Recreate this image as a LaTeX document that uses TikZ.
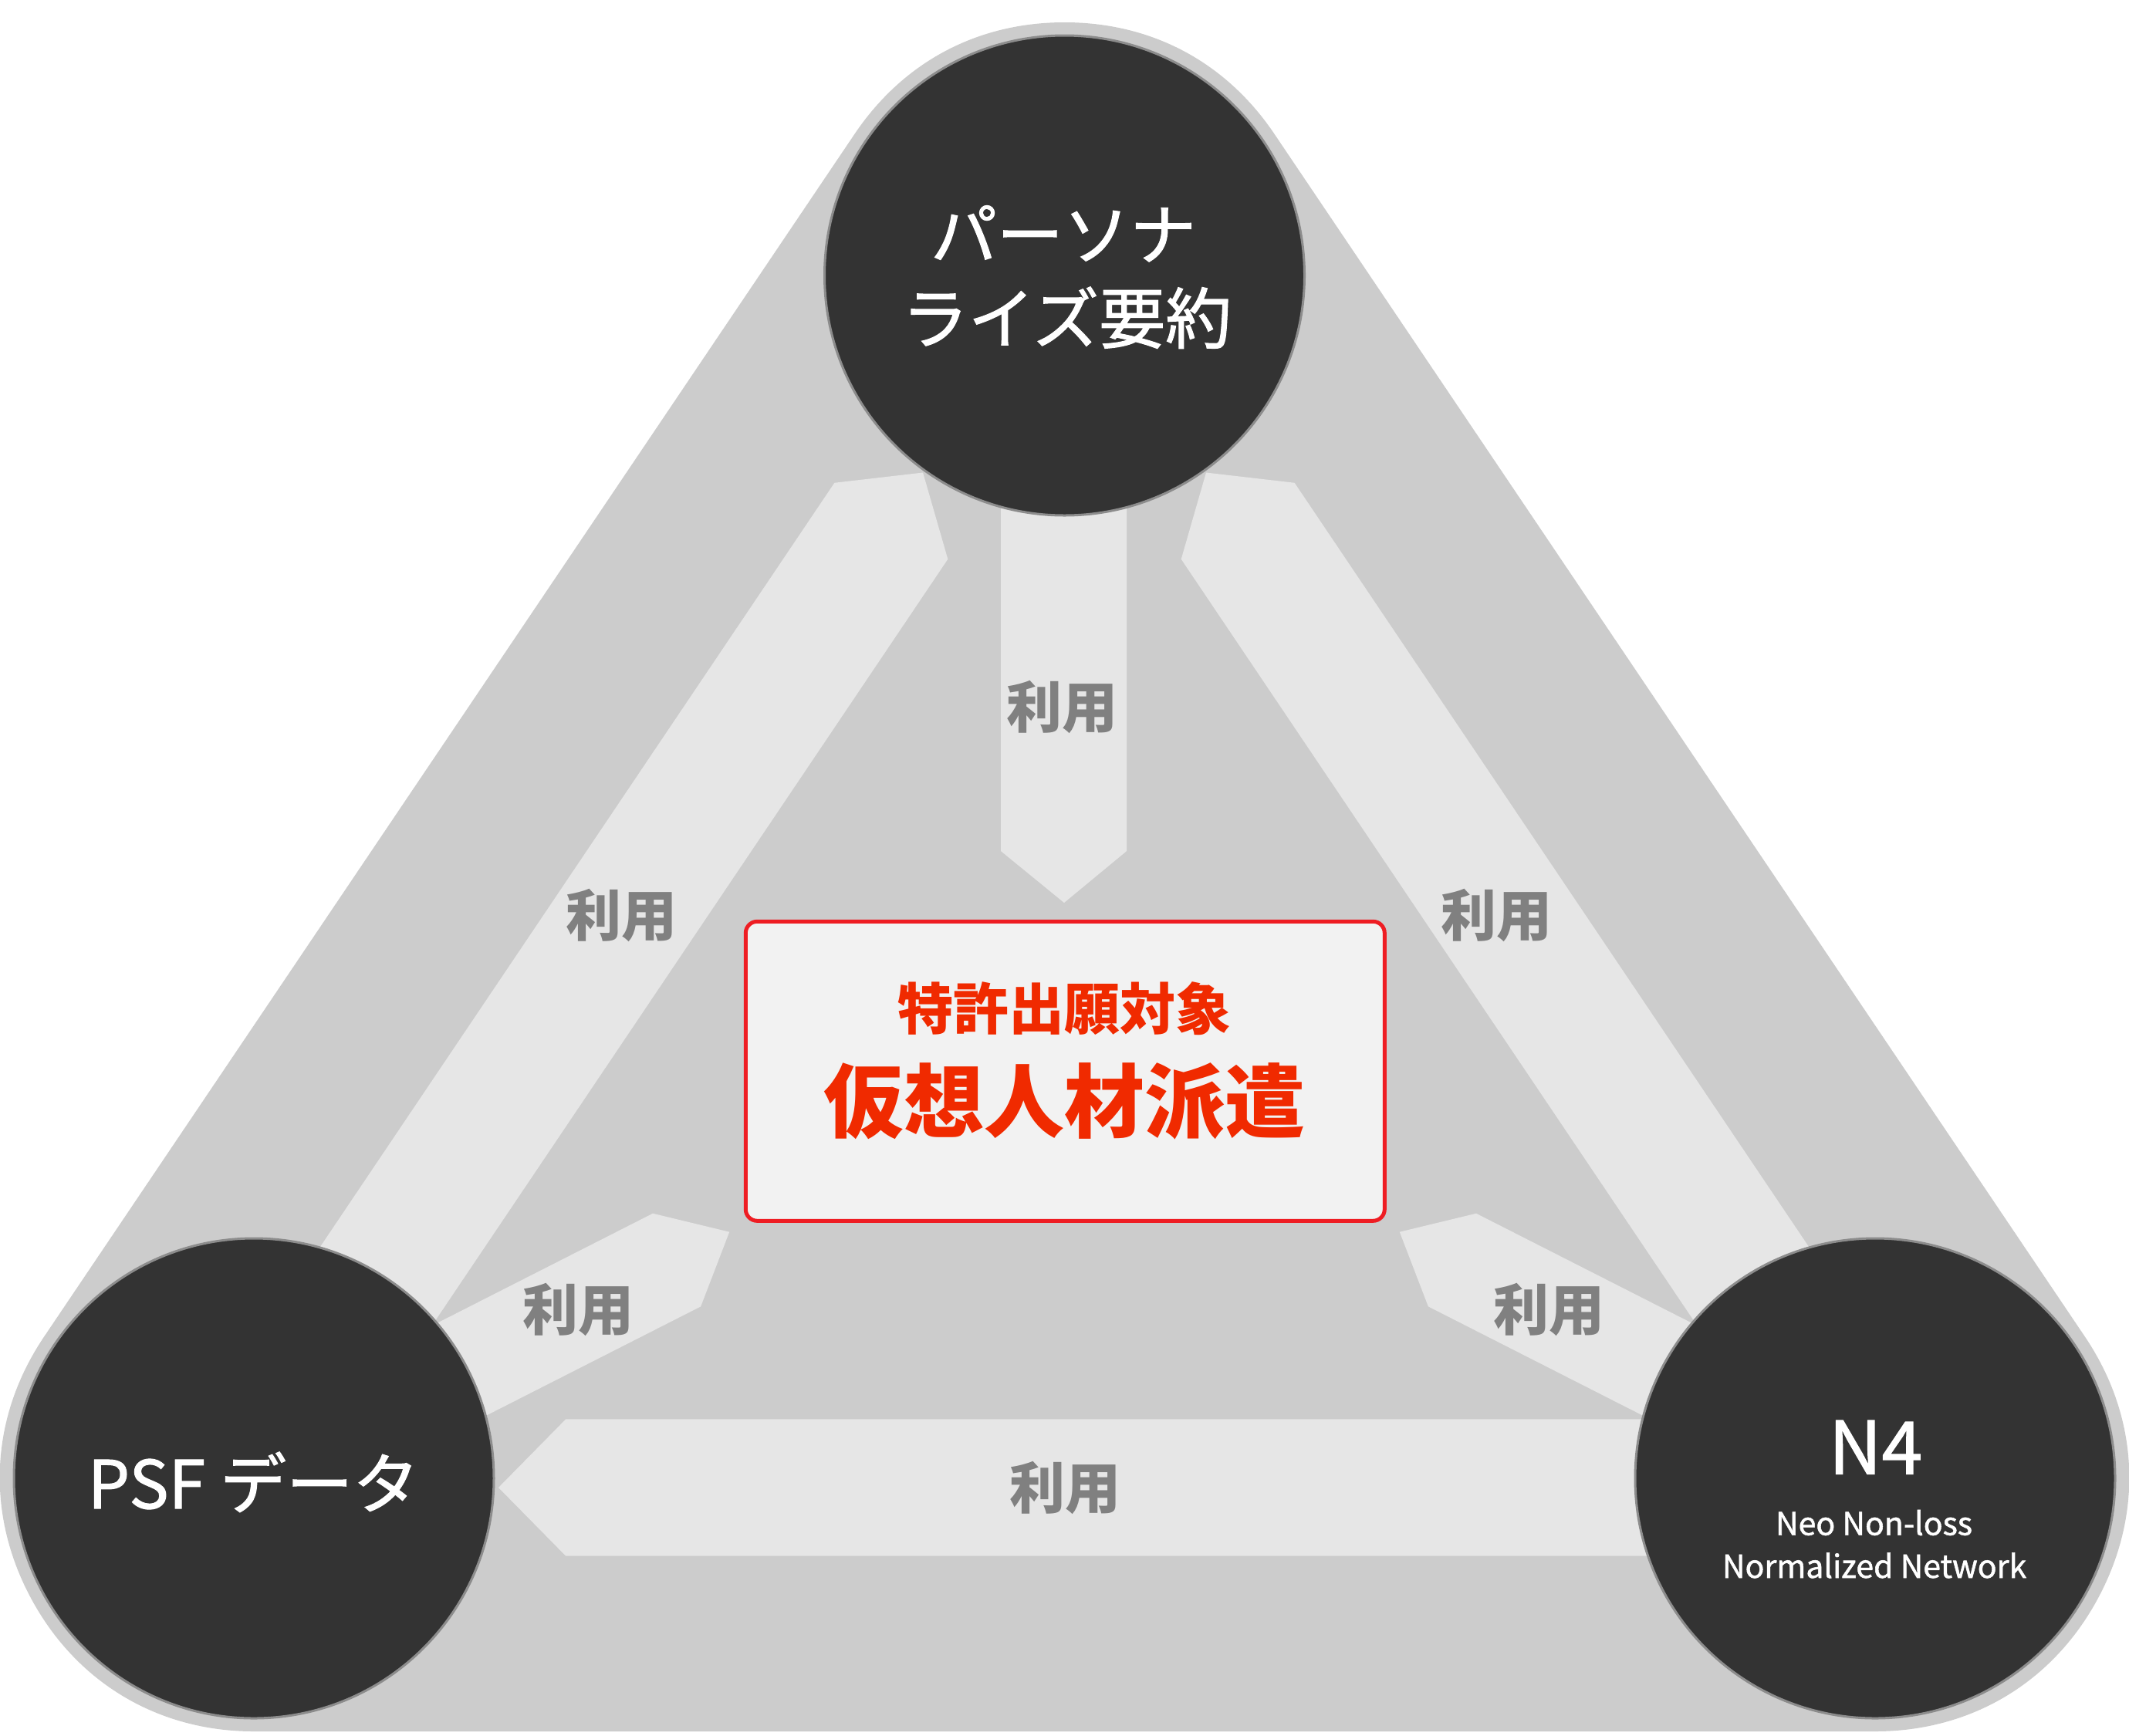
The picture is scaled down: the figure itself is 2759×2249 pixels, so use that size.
\documentclass[tikz,border=0pt]{standalone}
\usepackage{fontspec}
\setmainfont{Noto Sans CJK JP}
\newfontfamily\hubfont{Noto Sans CJK JP}[FakeBold=1.3]
\definecolor{band}{HTML}{CCCCCC}
\definecolor{arrowfill}{HTML}{E6E6E6}
\definecolor{disc}{HTML}{333333}
\definecolor{discline}{HTML}{8C8C8C}
\definecolor{labelgray}{HTML}{808080}
\definecolor{boxfill}{HTML}{F2F2F2}
\definecolor{boxred}{HTML}{EE1D23}
\definecolor{textred}{HTML}{F02A00}
\begin{document}
\begin{tikzpicture}[x=1pt,y=-1pt,
  hub/.style={circle, fill=disc, draw=discline, line width=3pt, minimum size=622pt, inner sep=0pt},
  blockarrow/.style={fill=arrowfill},
  uselabel/.style={text=labelgray, font=\fontsize{72}{80}\selectfont\bfseries, anchor=base, inner sep=0pt},
  hubtext/.style={text=white, anchor=base, inner sep=0pt},
  redtext/.style={text=textred, anchor=base, inner sep=0pt}]
\fill[white] (0,0) rectangle (2759,2249);
\useasboundingbox (0,0) rectangle (2759,2249);
% centres
\coordinate (pA) at (1379.5,357);
\coordinate (pB) at (329,1916);
\coordinate (pC) at (2430,1916);
% outer rounded triangle
\fill[band] (pA) -- (pB) -- (pC) -- cycle;
\draw[band, line width=656pt, line join=round] (pA) -- (pB) -- (pC) -- cycle;
% block arrows
\fill[blockarrow] (1297,500) -- (1460,500) -- (1460,1103) -- (1379,1170) -- (1297,1103) -- cycle;
\fill[blockarrow] (248.3,1863.6) -- (1081.4,625.8) -- (1196,612.5) -- (1228.3,724.7) -- (395.2,1962.5) -- cycle;
\fill[blockarrow] (2510.7,1863.6) -- (1677.6,625.8) -- (1563,612.5) -- (1530.7,724.7) -- (2363.8,1962.5) -- cycle;
\fill[blockarrow] (311.2,1844.6) -- (846,1572.7) -- (945.2,1596.7) -- (908.1,1693.3) -- (373.3,1965.2) -- cycle;
\fill[blockarrow] (2447.8,1844.6) -- (1913,1572.7) -- (1813.8,1596.7) -- (1850.9,1693.3) -- (2385.7,1965.2) -- cycle;
\fill[blockarrow] (2430,1839.3) -- (733.3,1839.3) -- (646,1928) -- (733.3,2016.7) -- (2430,2016.7) -- cycle;
% hubs
\node[hub] (A) at (pA) {};
\node[hub] (B) at (pB) {};
\node[hub] (C) at (pC) {};
% hub texts
\node[hubtext, font=\hubfont\fontsize{86}{100}\selectfont] (tA1) at (1378,336) {パーソナ};
\node[hubtext, font=\hubfont\fontsize{86}{100}\selectfont] (tA2) at (1382.5,444.7) {ライズ要約};
\node[hubtext, font=\hubfont\fontsize{86}{100}\selectfont] (tB) at (328.5,1955) {PSF データ};
\node[hubtext, font=\hubfont\fontsize{95}{100}\selectfont] (tC1) at (2430.5,1910.6) {N4};
\node[hubtext, font=\hubfont\fontsize{41}{48}\selectfont] (tC2) at (2428.5,1989.6) {Neo Non-loss};
\node[hubtext, font=\hubfont\fontsize{41}{48}\selectfont] (tC3) at (2429,2045) {Normalized Network};
% centre box
\node[draw=boxred, fill=boxfill, line width=5pt, rounded corners=15pt, minimum width=828pt, minimum height=388pt, inner sep=0pt] (box) at (1380.3,1388.3) {};
\node[redtext, font=\fontsize{72}{80}\selectfont\bfseries] (sub) at (1379.3,1334.4) {特許出願対象};
\node[redtext, font=\fontsize{104}{110}\selectfont\bfseries] (title) at (1379.5,1466) {仮想人材派遣};
% labels
\node[uselabel] (l1) at (1376.5,943.4) {利用};
\node[uselabel] (l2) at (805.7,1213) {利用};
\node[uselabel] (l3) at (1939,1213) {利用};
\node[uselabel] (l4) at (749.3,1724) {利用};
\node[uselabel] (l5) at (2007.7,1724) {利用};
\node[uselabel] (l6) at (1380,1955) {利用};
\end{tikzpicture}
\end{document}
